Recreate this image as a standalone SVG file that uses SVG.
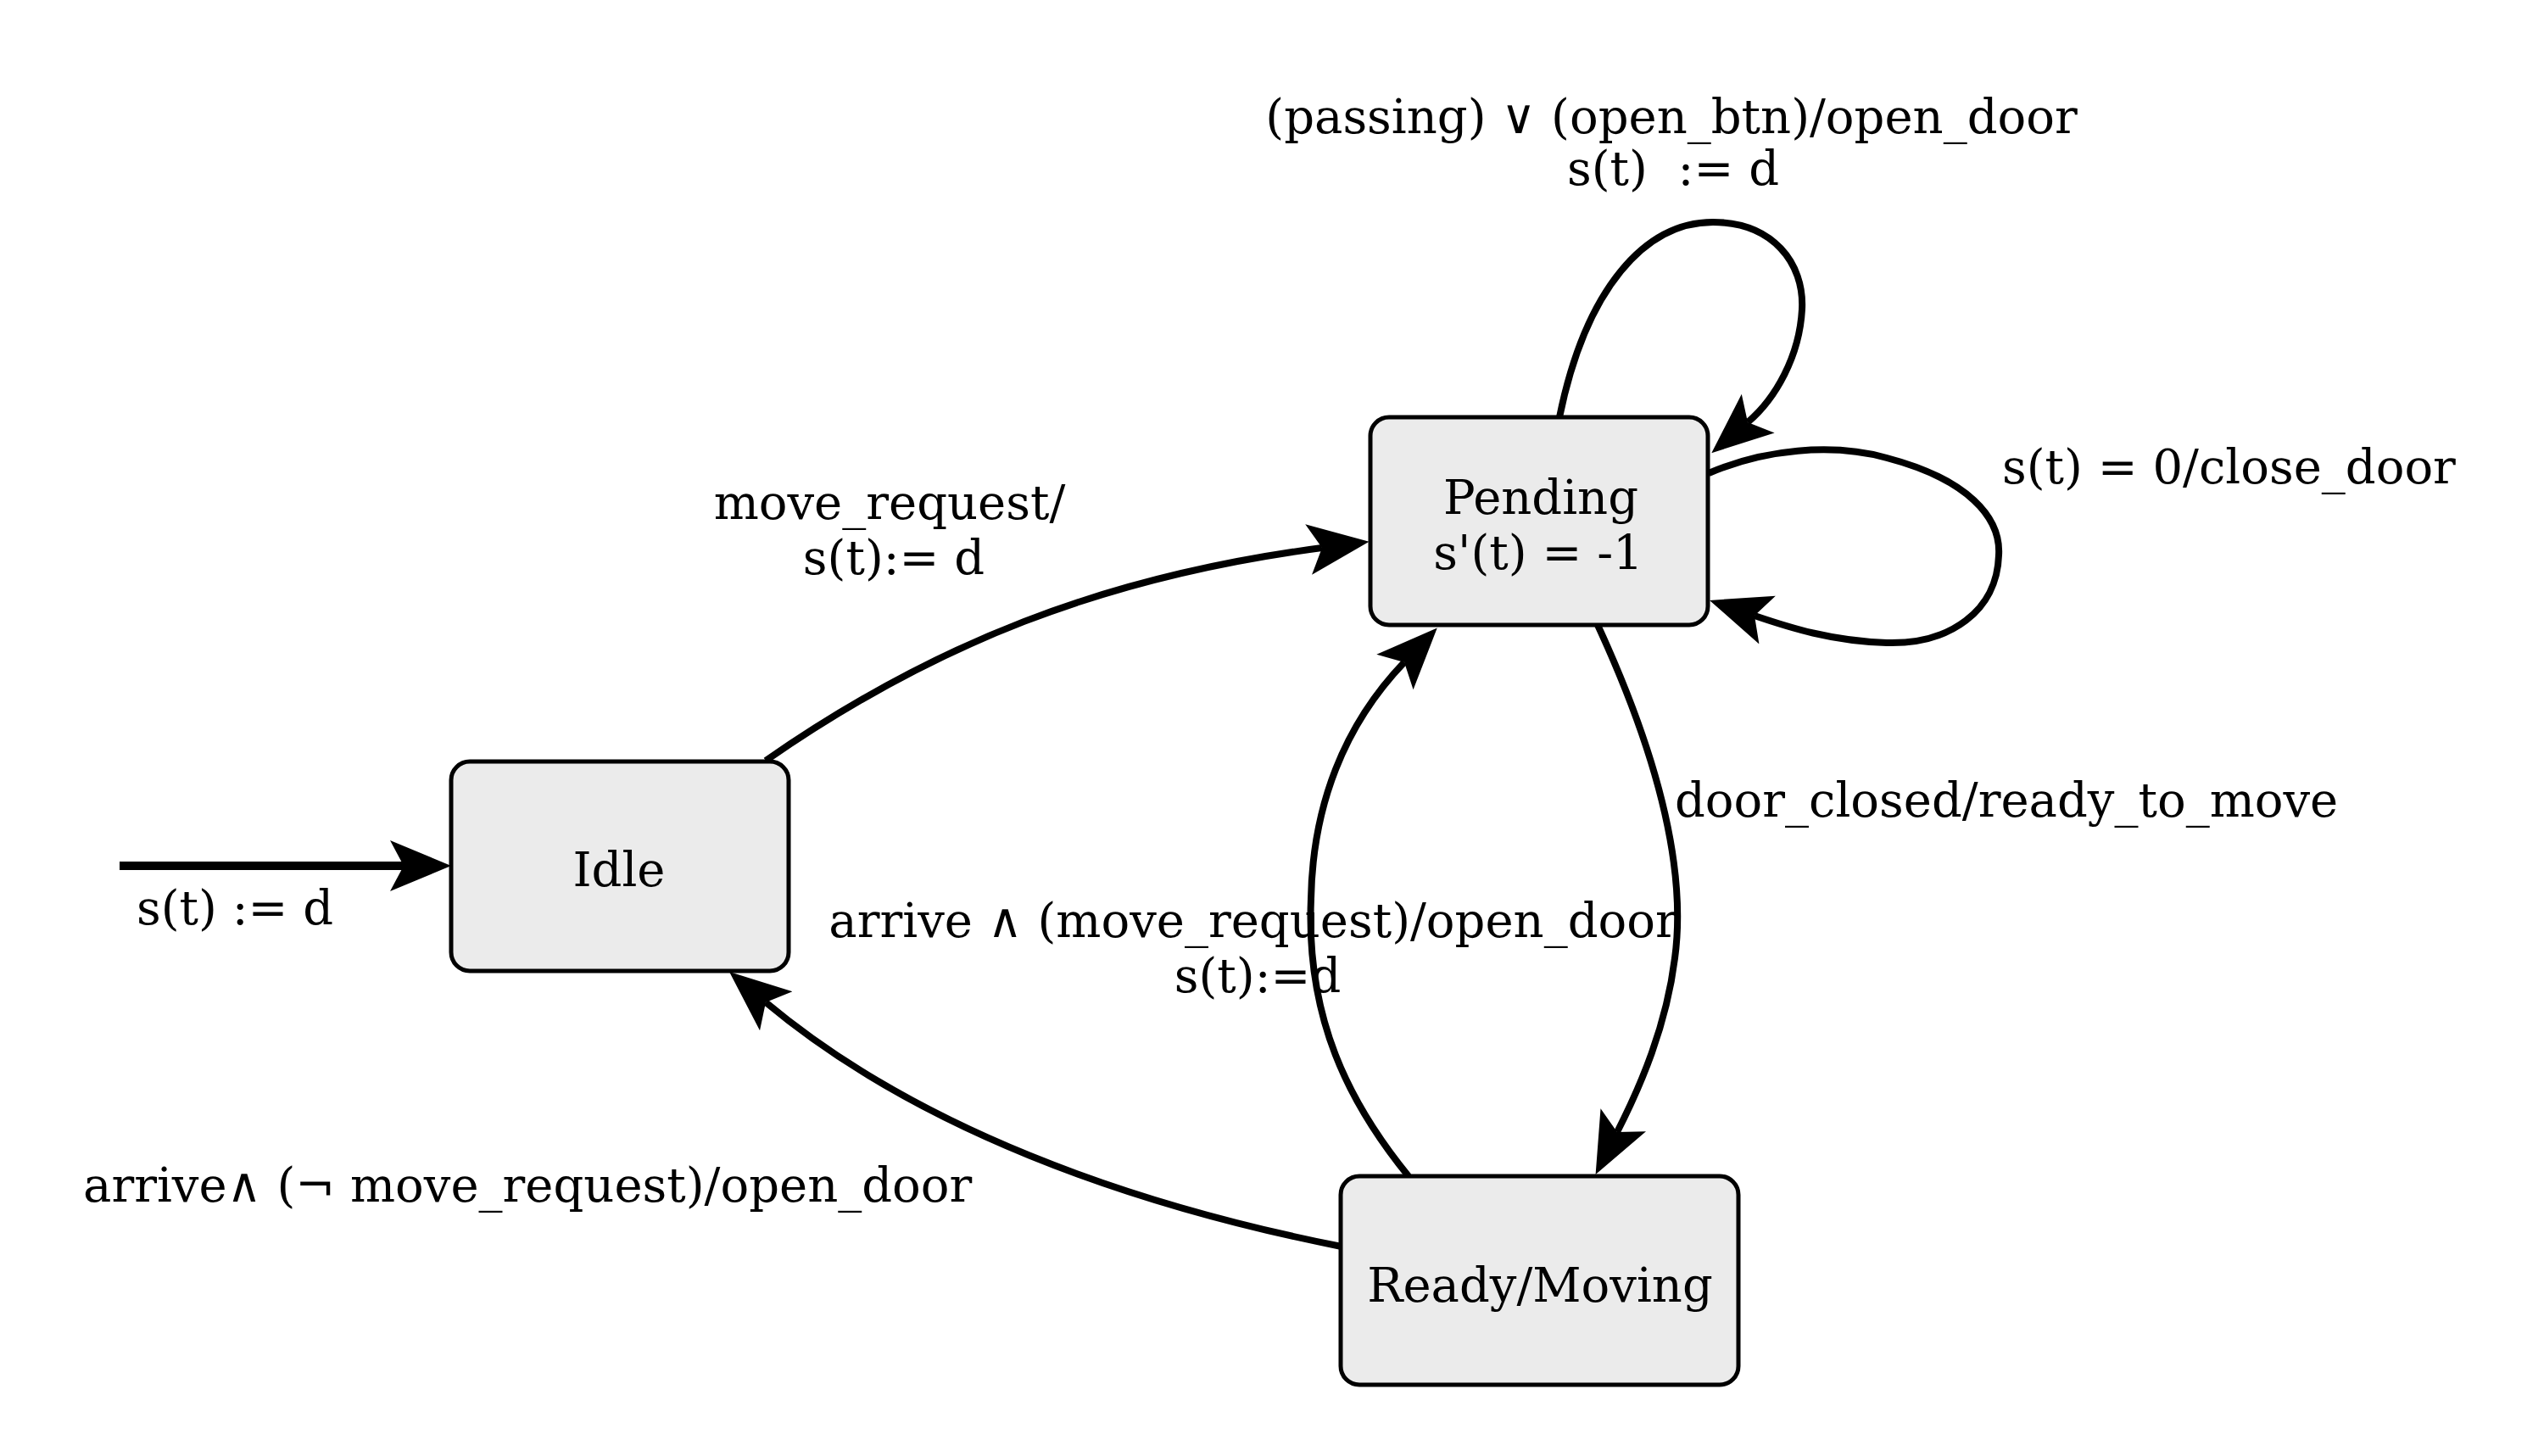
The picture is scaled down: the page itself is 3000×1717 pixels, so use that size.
<svg xmlns="http://www.w3.org/2000/svg" width="3000" height="1717" viewBox="0 0 3000 1717">
<style>
.node rect { fill: #ebebeb; stroke: #000; stroke-width: 5; }
text { font-family: "DejaVu Serif", "Liberation Serif", serif; font-size: 56px; fill: #000; white-space: pre; }
.c { text-anchor: middle; }
.edge { fill: none; stroke: #000; stroke-width: 8; marker-end: url(#ah); }
</style>
<defs>
<marker id="ah" markerUnits="userSpaceOnUse" markerWidth="80" markerHeight="70" viewBox="0 -35 80 70" refX="16" refY="0" orient="auto">
<path d="M0,-30 L72,0 L0,30 L16,0 Z" fill="#000"/>
</marker>
</defs>
<rect width="3000" height="1717" fill="#fff"/>
<g id="connectors">
<path class="edge" style="stroke-width:10" d="M141 1021 L476 1021"/>
<path class="edge" d="M903 897 C1100 760 1300 680 1559 646"/>
<path class="edge" d="M1839 492 C1870 340 1940 262 2020 262 C2090 262 2128 310 2125 365 C2122 420 2094 470 2061 498"/>
<path class="edge" d="M2015 558 C2080 530 2160 522 2225 540 C2320 565 2360 610 2357 655 C2355 720 2300 760 2225 758 C2160 756 2110 740 2069 726"/>
<path class="edge" d="M1884 737 C1950 880 1990 1020 1975 1130 C1965 1210 1935 1280 1907 1335"/>
<path class="edge" d="M1661 1387 C1590 1300 1540 1200 1546 1060 C1548 950 1585 855 1656 781"/>
<path class="edge" d="M1582 1470 C1330 1420 1080 1330 903 1182"/>
</g>
<g id="labels">
<text x="161" y="1090">s(t) := d</text>
<text class="c" x="1049" y="612">move_request/</text>
<text class="c" x="1054" y="677">s(t):= d</text>
<text class="c" x="1971" y="157">(passing) ∨ (open_btn)/open_door</text>
<text class="c" x="1973" y="218">s(t)  := d</text>
<text x="2361" y="570">s(t) = 0/close_door</text>
<text x="1975" y="963">door_closed/ready_to_move</text>
<text class="c" x="1478" y="1105">arrive ∧ (move_request)/open_door</text>
<text class="c" x="1483" y="1170">s(t):=d</text>
<text x="98" y="1417">arrive∧ (¬ move_request)/open_door</text>
</g>
<g id="idle" class="node">
<rect x="532" y="898" width="398" height="247" rx="22"/>
<text class="c" x="730" y="1045">Idle</text>
</g>
<g id="pending" class="node">
<rect x="1616" y="492" width="398" height="245" rx="22"/>
<text class="c" x="1817" y="606">Pending</text>
<text class="c" x="1814" y="671">s'(t) = -1</text>
</g>
<g id="ready" class="node">
<rect x="1581" y="1387" width="469" height="246" rx="22"/>
<text class="c" x="1816" y="1535">Ready/Moving</text>
</g>
</svg>
